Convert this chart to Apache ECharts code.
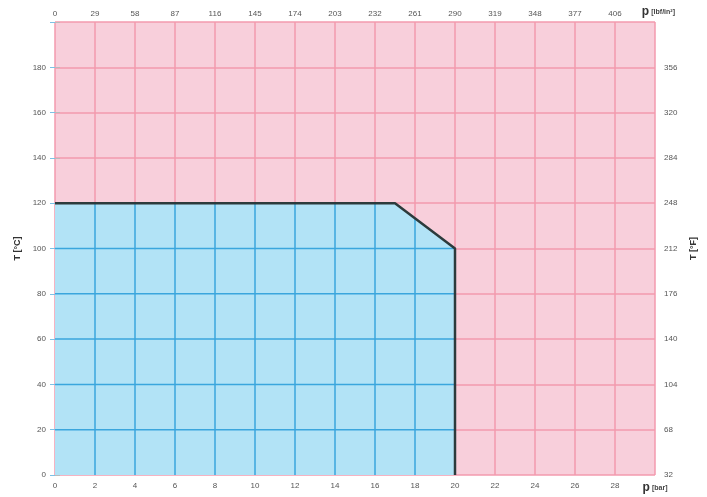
<!DOCTYPE html>
<html><head><meta charset="utf-8">
<script src="https://cdn.jsdelivr.net/npm/echarts@6/dist/echarts.min.js"></script>
<style>html,body{margin:0;padding:0;background:#fff}#c{width:707px;height:497px}</style>
</head><body><div id="c"></div>
<script>
// Data
var pBarTicks = [0,2,4,6,8,10,12,14,16,18,20,22,24,26,28];
var pPsiLabels = ['0','29','58','87','116','145','174','203','232','261','290','319','348','377','406'];
var tCTicks = [0,20,40,60,80,100,120,140,160,180];
var tFLabels = ['32','68','104','140','176','212','248','284','320','356'];
// operating limit boundary (p [bar], T [°C])
var boundaryP = [0,17,20,20];
var boundaryT = [120,120,100,0];

var boundary = boundaryP.map(function(p,i){return [p, boundaryT[i]];});
var areaData = [[0,0]].concat(boundary);

function tMaxAt(p){
  for (var i=0;i<boundary.length-1;i++){
    var a=boundary[i], b=boundary[i+1];
    if (p>=a[0] && p<=b[0] && b[0]!==a[0]) return a[1]+(b[1]-a[1])*(p-a[0])/(b[0]-a[0]);
  }
  return 0;
}
function pMaxAt(t){
  for (var i=0;i<boundary.length-1;i++){
    var a=boundary[i], b=boundary[i+1];
    var lo=Math.min(a[1],b[1]), hi=Math.max(a[1],b[1]);
    if (t>=lo && t<=hi && a[1]!==b[1]) return a[0]+(b[0]-a[0])*(t-a[1])/(b[1]-a[1]);
  }
  return 0;
}
var gridLines = [];
pBarTicks.forEach(function(p){ if(p>0 && p<20) gridLines.push([p,0,p,tMaxAt(p)]); });
tCTicks.forEach(function(t){ if(t>0 && t<120) gridLines.push([0,t,pMaxAt(t),t]); });

var pink='#f8cfdb', pinkLine='#f39aae', blueFill='#b2e3f6', blueLine='#3aa6dd';
var richName={b:{fontSize:12,fontWeight:'bold',color:'#333',fontFamily:'Liberation Sans'},s:{fontSize:7,color:'#444',fontWeight:'bold'}};

var chart = echarts.init(document.getElementById('c'));
chart.setOption({
  animation:false,
  grid:{left:55,right:52,top:22,bottom:22,show:true,backgroundColor:pink,borderWidth:0},
  xAxis:[{
    type:'value',position:'bottom',min:0,max:30,interval:2,
    axisLine:{show:false},axisTick:{show:false},
    splitLine:{show:true,lineStyle:{color:pinkLine,width:1.5}},
    axisLabel:{margin:7,color:'#555',fontSize:8,fontFamily:'Liberation Sans',rich:richName,
      formatter:function(v){return v>=30?'{b|p} {s|[bar]}':String(v);}}
  },{
    type:'value',position:'top',min:0,max:30,interval:2,
    axisLine:{show:false},axisTick:{show:false},splitLine:{show:false},
    axisLabel:{margin:4,color:'#555',fontSize:8,fontFamily:'Liberation Sans',rich:richName,
      formatter:function(v){if(v>=30)return '   {b|p} {s|[lbf/in²]}';var i=pBarTicks.indexOf(v);return i>=0?pPsiLabels[i]:'';}}
  }],
  yAxis:[{
    type:'value',position:'left',min:0,max:200,interval:20,
    axisLine:{show:false},
    axisTick:{show:true,length:5,lineStyle:{color:'#7cc1e6'}},
    splitLine:{show:true,lineStyle:{color:pinkLine,width:1.5}},
    axisLabel:{margin:9,color:'#555',fontSize:8,fontFamily:'Liberation Sans',formatter:function(v){return v>=200?'':String(v);}},
    name:'T [°C]',nameLocation:'middle',nameGap:32,nameRotate:90,
    nameTextStyle:{fontSize:9,fontWeight:'bold',color:'#333'}
  },{
    type:'value',position:'right',min:0,max:200,interval:20,
    axisLine:{show:false},
    axisTick:{show:true,length:5,lineStyle:{color:'#bbb'}},
    splitLine:{show:false},
    axisLabel:{margin:9,color:'#555',fontSize:8,fontFamily:'Liberation Sans',formatter:function(v){var i=tCTicks.indexOf(v);return i>=0?tFLabels[i]:'';}},
    name:'T [°F]',nameLocation:'middle',nameGap:34,nameRotate:90,
    nameTextStyle:{fontSize:9,fontWeight:'bold',color:'#333'}
  }],
  series:[{
    type:'line',data:areaData,symbol:'none',z:2,
    lineStyle:{width:0,color:blueFill},areaStyle:{color:blueFill,opacity:1}
  },{
    type:'custom',z:3,data:gridLines,silent:true,
    renderItem:function(params,api){
      var a=api.coord([api.value(0),api.value(1)]), b=api.coord([api.value(2),api.value(3)]);
      return {type:'line',shape:{x1:a[0],y1:a[1],x2:b[0],y2:b[1]},style:{stroke:blueLine,lineWidth:1.5}};
    }
  },{
    type:'line',data:boundary,symbol:'none',z:4,
    lineStyle:{width:2.5,color:'#2c3b3c'}
  }]
});
</script></body></html>
